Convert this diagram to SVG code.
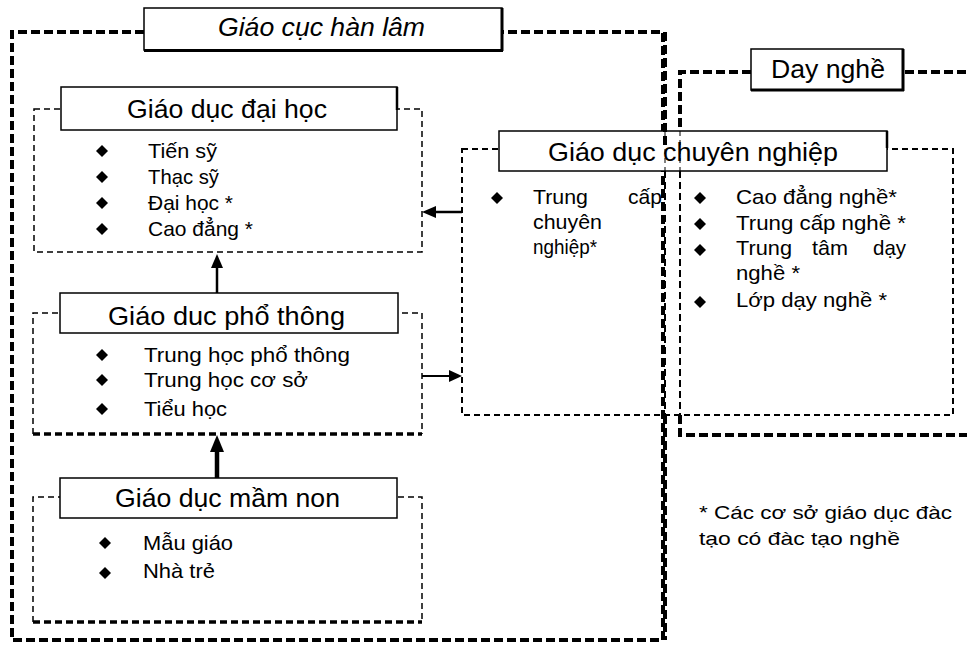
<svg xmlns="http://www.w3.org/2000/svg" width="967" height="645" viewBox="0 0 967 645">
<style>
.outer{fill:none;stroke:#000;stroke-width:4;stroke-dasharray:9 4;}
.thin{fill:none;stroke:#000;stroke-width:2;stroke-dasharray:7 4;}
.inner{fill:none;stroke:#000;stroke-width:1.5;stroke-dasharray:6 4;}
.innerb{fill:none;stroke:#000;stroke-width:3.5;stroke-dasharray:7 4;}
.lbl{fill:#fff;stroke:#000;stroke-width:1.5;}
.sh{fill:none;stroke:#000;stroke-width:3;}
.t{font-family:"Liberation Sans",Arial,sans-serif;fill:#000;}
.h{font-size:26px;}
.b{font-size:21px;}
.f{font-size:19px;}
.ln{stroke:#000;fill:none;}
</style>
<defs>
<path id="dm" d="M0,-6 L6,0 L0,6 L-6,0 Z" fill="#000"/>
</defs>
<rect width="967" height="645" fill="#fff"/>

<g id="giao-cuc-han-lam">
<path class="outer" d="M144,32 H12 V640 H663 V32 H502"/>
<rect class="lbl" x="144" y="8" width="358" height="42"/>
<path class="sh" d="M502,8 V51 M144,50.5 H503" style="stroke-width:3"/>
<text class="t h" x="218" y="36" font-style="italic" textLength="207" lengthAdjust="spacingAndGlyphs">Giáo cục hàn lâm</text>
</g>

<g id="day-nghe">
<path class="outer" d="M751,72 H680 V149 M680,415 V435 H967 M905,72 H967"/>
<rect class="lbl" x="751" y="49" width="152" height="41"/>
<path class="sh" d="M903,49 V91 M751,90 H904"/>
<text class="t h" x="771" y="78" textLength="114" lengthAdjust="spacingAndGlyphs">Day nghề</text>
<g class="t b">
<use href="#dm" x="700" y="198"/>
<use href="#dm" x="700" y="224"/>
<use href="#dm" x="700" y="250"/>
<use href="#dm" x="700" y="302"/>
<text x="736" y="204" textLength="161" lengthAdjust="spacingAndGlyphs">Cao đẳng nghề*</text>
<text x="736" y="230" textLength="170" lengthAdjust="spacingAndGlyphs">Trung cấp nghề *</text>
<text x="736" y="255" textLength="56" lengthAdjust="spacingAndGlyphs">Trung</text>
<text x="812" y="255" textLength="36" lengthAdjust="spacingAndGlyphs">tâm</text>
<text x="873" y="255" textLength="33" lengthAdjust="spacingAndGlyphs">dạy</text>
<text x="736" y="280" textLength="64" lengthAdjust="spacingAndGlyphs">nghề *</text>
<text x="736" y="307" textLength="151" lengthAdjust="spacingAndGlyphs">Lớp dạy nghề *</text>
</g>
</g>

<g id="giao-duc-dai-hoc">
<rect class="inner" x="34" y="109" width="388" height="143"/>
<rect class="lbl" x="61" y="87" width="336" height="43"/>
<path class="sh" d="M397,87 V110" style="stroke-width:2.5"/>
<text class="t h" x="127" y="118" textLength="200" lengthAdjust="spacingAndGlyphs">Giáo dục đại học</text>
<use href="#dm" x="102" y="151"/>
<use href="#dm" x="102" y="177"/>
<use href="#dm" x="102" y="203"/>
<use href="#dm" x="102" y="229"/>
<g class="t b">
<text x="148" y="158" textLength="69" lengthAdjust="spacingAndGlyphs">Tiến sỹ</text>
<text x="148" y="184" textLength="71" lengthAdjust="spacingAndGlyphs">Thạc sỹ</text>
<text x="148" y="210" textLength="85" lengthAdjust="spacingAndGlyphs">Đại học *</text>
<text x="148" y="236" textLength="105" lengthAdjust="spacingAndGlyphs">Cao đẳng *</text>
</g>
</g>

<g id="giao-duc-pho-thong">
<path class="inner" d="M33,434 V313 H422 V434"/>
<path class="innerb" d="M33,434 H422"/>
<rect class="lbl" x="60" y="293" width="338" height="40"/>
<text class="t h" x="108" y="325" textLength="237" lengthAdjust="spacingAndGlyphs">Giáo duc phổ thông</text>
<use href="#dm" x="102" y="355"/>
<use href="#dm" x="102" y="380"/>
<use href="#dm" x="102" y="409"/>
<g class="t b">
<text x="144" y="362" textLength="206" lengthAdjust="spacingAndGlyphs">Trung học phổ thông</text>
<text x="144" y="387" textLength="164" lengthAdjust="spacingAndGlyphs">Trung học cơ sở</text>
<text x="144" y="416" textLength="83" lengthAdjust="spacingAndGlyphs">Tiểu học</text>
</g>
</g>

<g id="giao-duc-mam-non">
<path class="inner" d="M33,622 V497 H422 V622"/>
<path class="innerb" d="M33,622 H422"/>
<rect class="lbl" x="60" y="478" width="337" height="40"/>
<text class="t h" x="115" y="507" textLength="225" lengthAdjust="spacingAndGlyphs">Giáo dục mầm non</text>
<use href="#dm" x="105" y="543"/>
<use href="#dm" x="105" y="573"/>
<g class="t b">
<text x="143" y="550" textLength="90" lengthAdjust="spacingAndGlyphs">Mẫu giáo</text>
<text x="143" y="578" textLength="72" lengthAdjust="spacingAndGlyphs">Nhà trẻ</text>
</g>
</g>

<g id="giao-duc-chuyen-nghiep">
<rect class="inner" x="462" y="149" width="491" height="266" style="stroke-width:2"/>
<path class="thin" d="M665,149 V415 M680,149 V415"/>
<rect class="lbl" x="499" y="131" width="388" height="40"/>
<path class="sh" d="M887,131 V148" style="stroke-width:2.5"/>
<text class="t h" x="548" y="161" textLength="290" lengthAdjust="spacingAndGlyphs">Giáo dục chuyên nghiệp</text>
<path d="M665,131 V171 M680,131 V171" stroke="#000" stroke-width="1" stroke-dasharray="5 4" fill="none"/>
<use href="#dm" x="497" y="198"/>
<g class="t b">
<text x="533" y="204" textLength="55" lengthAdjust="spacingAndGlyphs">Trung</text>
<text x="628" y="204" textLength="34" lengthAdjust="spacingAndGlyphs">cấp</text>
<text x="533" y="229" textLength="69" lengthAdjust="spacingAndGlyphs">chuyên</text>
<text x="533" y="254" textLength="64" lengthAdjust="spacingAndGlyphs">nghiệp*</text>
</g>
</g>

<g id="connectors">
<path class="ln" d="M217,293 V266" stroke-width="2.5"/>
<polygon points="217,254 211,268 223,268" fill="#000"/>
<path class="ln" d="M217,478 V450" stroke-width="4.5"/>
<polygon points="217,435 210,452 224,452" fill="#000"/>
<path class="ln" d="M462,212 H433" stroke-width="2.5"/>
<polygon points="422,212 436,206 436,218" fill="#000"/>
<path class="ln" d="M422,376 H451" stroke-width="2"/>
<polygon points="462,376 449,370 449,382" fill="#000"/>
</g>

<g id="footnote" class="t f">
<text x="699" y="519" textLength="253" lengthAdjust="spacingAndGlyphs">* Các cơ sở giáo dục đàc</text>
<text x="699" y="545" textLength="201" lengthAdjust="spacingAndGlyphs">tạo có đàc tạo nghề</text>
</g>

<path class="outer" d="M665,32 V149 M665,415 V640"/>
</svg>
